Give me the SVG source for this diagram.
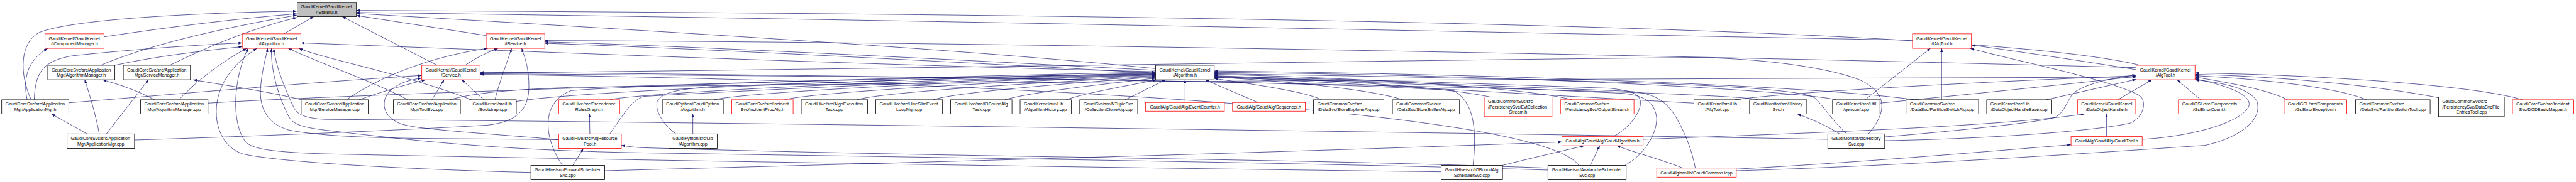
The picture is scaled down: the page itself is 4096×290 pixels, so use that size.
<svg xmlns="http://www.w3.org/2000/svg" width="4096" height="290" viewBox="0 0 4096 290">
<style>
text{font-family:"Liberation Sans",Arial,Helvetica,sans-serif;font-size:13.2px;text-anchor:middle;fill:#000}
text.l{text-anchor:start}
.node rect{fill:#fff;stroke:#000;stroke-width:1.5}
.red rect{stroke:#f00}
.gray rect{fill:#bfbfbf}
.edges path{fill:none;stroke:#191970;stroke-width:1.3;marker-end:url(#ah)}
</style>
<defs>
<marker id="ah" viewBox="0 0 11 8" refX="11" refY="4" markerWidth="11" markerHeight="8" markerUnits="userSpaceOnUse" orient="auto"><path d="M0,0L11,4L0,8z" fill="#191970"/></marker>
</defs>
<rect width="4096" height="290" fill="#fff"/>
<g transform="scale(0.5387)">
<g id="edges" class="edges">
<path d="M92,295 C55,215 60,125 116,96 C220,55 600,38 876,33"/>
<path d="M307,109 C500,80 700,55 876,41"/>
<path d="M297,193 C400,150 560,100 876,45"/>
<path d="M501,193 C620,135 740,85 876,52"/>
<path d="M838,100 L926,49"/>
<path d="M1290,193 L1010,49"/>
<path d="M1434,105 L1052,46"/>
<path d="M3411,203 C2900,150 2000,95 1052,40"/>
<path d="M5645,119 C4500,98 2500,55 1052,37"/>
<path d="M6317,193 C5900,90 4000,45 1052,31"/>
<path d="M80,295 C68,235 78,180 141,143"/>
<path d="M101,295 C104,215 125,180 214,165 C400,145 600,132 715,127"/>
<path d="M339,193 C450,168 600,150 715,138"/>
<path d="M528,295 C580,240 650,185 728,143"/>
<path d="M1567,510 C1100,498 800,475 716,455 C640,430 620,330 655,255 C680,200 725,165 758,143"/>
<path d="M4254,508 C3000,493 1400,465 960,455 C800,450 745,440 725,420 C680,360 690,230 732,143"/>
<path d="M1649,413 C1300,408 1000,415 850,384 C790,365 762,320 770,250 C775,200 785,170 790,143"/>
<path d="M5395,412 C4500,395 2000,360 960,353 C900,350 878,338 868,320 C840,260 815,200 808,143"/>
<path d="M4569,503 C4000,484 2800,466 1900,452 C1400,444 1100,400 960,385 C880,375 862,365 850,340 C815,270 800,200 801,143"/>
<path d="M1204,295 C1100,240 950,190 851,143"/>
<path d="M1391,295 C1200,220 960,175 882,143"/>
<path d="M3411,212 C2500,190 1500,150 888,127"/>
<path d="M1373,193 C1400,175 1430,158 1470,143"/>
<path d="M1023,295 C1100,240 1250,170 1440,143"/>
<path d="M1461,295 C1475,240 1495,190 1510,143"/>
<path d="M397,414 C700,405 1200,385 1440,370 C1530,360 1560,320 1561,260 C1562,200 1548,168 1540,143"/>
<path d="M3411,208 C2800,175 2000,135 1608,124"/>
<path d="M6305,200 C5000,165 3000,125 1608,120"/>
<path d="M5000,305 C4000,250 2500,160 1608,128"/>
<path d="M203,304 C500,280 900,245 1245,223"/>
<path d="M1060,295 C1130,270 1200,250 1256,236"/>
<path d="M1275,295 L1311,236"/>
<path d="M1428,295 L1363,236"/>
<path d="M1649,413 C1400,392 1220,382 1180,365 C1130,345 1122,300 1150,270 C1175,245 1210,236 1245,231"/>
<path d="M5515,396 C5580,320 5560,270 5491,237 C5400,200 5200,172 4995,170 C4000,180 2500,205 1417,216"/>
<path d="M4660,489 C4550,330 3000,240 1417,220"/>
<path d="M4348,489 C4360,380 4350,300 4290,268 C3800,235 2500,226 1417,218"/>
<path d="M5188,295 C5100,268 3000,225 1417,214"/>
<path d="M314,396 L438,236"/>
<path d="M889,295 C800,272 650,250 570,236"/>
<path d="M293,396 C285,350 265,280 250,236"/>
<path d="M456,295 C400,265 350,250 303,236"/>
<path d="M257,396 L152,337"/>
<path d="M614,305 C1000,280 2500,232 3411,213"/>
<path d="M1524,300 C1700,270 2500,238 3411,216"/>
<path d="M1660,489 C1600,400 1600,300 1686,268 C1900,250 2800,228 3411,218"/>
<path d="M1800,295 C1850,280 2500,240 3411,220"/>
<path d="M2108,295 C2200,272 2900,238 3411,222"/>
<path d="M2316,295 C2400,272 3000,240 3411,224"/>
<path d="M2530,295 C2600,272 3100,243 3411,226"/>
<path d="M2755,295 C2820,272 3200,243 3411,228"/>
<path d="M2966,295 C3050,270 3300,245 3411,231"/>
<path d="M3147,295 C3200,275 3350,250 3414,236"/>
<path d="M1995,396 C1960,370 1932,330 1940,300 C1955,272 2000,265 2100,256 C2600,238 3100,224 3411,219"/>
<path d="M1800,396 C1840,340 1860,300 1900,285 C2500,252 3000,232 3411,221"/>
<path d="M3321,295 L3441,236"/>
<path d="M3498,303 L3498,236"/>
<path d="M3713,303 L3557,236"/>
<path d="M3901,295 C3850,270 3700,250 3584,232"/>
<path d="M4140,295 C4050,265 3800,240 3584,228"/>
<path d="M4400,287 C4250,255 3900,235 3584,224"/>
<path d="M4640,295 C4500,258 4000,230 3584,220"/>
<path d="M5420,295 C5300,268 4500,222 3584,214"/>
<path d="M5650,295 C5400,258 4500,220 3584,210"/>
<path d="M4762,404 C4811,378 4845,330 4842,300 C4838,275 4811,268 4750,261 C4300,245 3900,232 3584,226"/>
<path d="M5004,497 C4995,447 4970,378 4934,327 C4905,290 4870,275 4810,270 C4300,250 3900,234 3584,228"/>
<path d="M4796,489 C4850,460 4890,400 4890,350 C4885,300 4850,282 4790,276 C4300,254 3900,236 3584,230"/>
<path d="M5451,396 C5410,360 5380,310 5356,289 C5300,260 5000,240 3584,218"/>
<path d="M5505,295 L5698,143"/>
<path d="M6305,206 C6050,165 5900,145 5819,133"/>
<path d="M5731,295 L5731,143"/>
<path d="M5563,416 C5900,410 6200,385 6288,364 C6330,345 6335,300 6318,285 C6250,240 5950,180 5815,143"/>
<path d="M5430,396 C5390,370 5340,350 5305,337"/>
<path d="M1327,295 C1400,275 1500,265 1700,258 C3500,235 5500,232 6305,228"/>
<path d="M5120,295 C5300,270 5900,240 6305,224"/>
<path d="M6040,295 L6305,235"/>
<path d="M5549,305 C5800,280 6100,250 6305,226"/>
<path d="M6251,295 L6352,236"/>
<path d="M6496,295 L6426,236"/>
<path d="M6323,412 C6450,405 6600,370 6635,320 C6660,280 6560,250 6479,233"/>
<path d="M6752,295 C6700,268 6600,248 6479,228"/>
<path d="M6985,295 C6900,260 6700,235 6479,224"/>
<path d="M7198,289 C7000,250 6700,225 6479,220"/>
<path d="M7445,295 C7300,250 6800,220 6479,216"/>
<path d="M5125,505 C5700,488 6350,440 6508,430 C6600,410 6680,360 6662,300 C6640,260 6560,245 6479,236"/>
<path d="M5563,405 C5800,385 6030,360 6067,347 C6095,330 6100,300 6120,275 C6160,245 6250,228 6305,222"/>
<path d="M6218,404 L6218,337"/>
<path d="M4850,412 C5300,395 5900,375 6153,337"/>
<path d="M5125,500 C5500,480 5900,445 6113,428"/>
<path d="M4435,489 C4550,460 4620,445 4676,431"/>
<path d="M4694,489 L4722,431"/>
<path d="M4967,497 C4900,470 4820,450 4772,431"/>
<path d="M1785,505 C2800,478 3800,450 4610,420"/>
<path d="M1691,489 L1722,439"/>
<path d="M4569,497 C3800,468 2800,465 1900,437 C1870,436 1850,432 1834,430"/>
<path d="M1741,396 L1740,337"/>
<path d="M2045,396 L2045,337"/>
</g>
<g id="n0" class="node gray"><rect x="877" y="7" width="175" height="42"/><text class="l" x="888" y="24.6">GaudiKernel/GaudiKernel</text><text x="964.5" y="40.8">/IStateful.h</text></g>
<g id="n1" class="node red"><rect x="133" y="100" width="174" height="43"/><text class="l" x="144" y="118.1">GaudiKernel/GaudiKernel</text><text x="220" y="134.3">/IComponentManager.h</text></g>
<g id="n2" class="node red"><rect x="715" y="100" width="173" height="43"/><text class="l" x="726" y="118.1">GaudiKernel/GaudiKernel</text><text x="801.5" y="134.3">/IAlgorithm.h</text></g>
<g id="n3" class="node red"><rect x="1435" y="100" width="173" height="43"/><text class="l" x="1446" y="118.1">GaudiKernel/GaudiKernel</text><text x="1521.5" y="134.3">/IService.h</text></g>
<g id="n4" class="node red"><rect x="5645" y="100" width="174" height="43"/><text class="l" x="5656" y="118.1">GaudiKernel/GaudiKernel</text><text x="5732" y="134.3">/IAlgTool.h</text></g>
<g id="n5" class="node"><rect x="141" y="193" width="198" height="43"/><text class="l" x="152" y="211.1">GaudiCoreSvc/src/Application</text><text x="240" y="227.3">Mgr/AlgorithmManager.h</text></g>
<g id="n6" class="node"><rect x="364" y="193" width="198" height="43"/><text class="l" x="375" y="211.1">GaudiCoreSvc/src/Application</text><text x="463" y="227.3">Mgr/ServiceManager.h</text></g>
<g id="n7" class="node red"><rect x="1245" y="193" width="172" height="43"/><text class="l" x="1256" y="211.1">GaudiKernel/GaudiKernel</text><text x="1331" y="227.3">/Service.h</text></g>
<g id="n8" class="node"><rect x="3411" y="193" width="173" height="43"/><text class="l" x="3422" y="211.1">GaudiKernel/GaudiKernel</text><text x="3497.5" y="227.3">/Algorithm.h</text></g>
<g id="n9" class="node red"><rect x="6305" y="193" width="174" height="43"/><text class="l" x="6316" y="211.1">GaudiKernel/GaudiKernel</text><text x="6392" y="227.3">/AlgTool.h</text></g>
<g id="n10" class="node"><rect x="5" y="295" width="198" height="42"/><text class="l" x="16" y="312.6">GaudiCoreSvc/src/Application</text><text x="104" y="328.8">Mgr/ApplicationMgr.h</text></g>
<g id="n11" class="node"><rect x="415" y="295" width="199" height="42"/><text class="l" x="426" y="312.6">GaudiCoreSvc/src/Application</text><text x="514.5" y="328.8">Mgr/AlgorithmManager.cpp</text></g>
<g id="n12" class="node"><rect x="889" y="295" width="198" height="42"/><text class="l" x="900" y="312.6">GaudiCoreSvc/src/Application</text><text x="988" y="328.8">Mgr/ServiceManager.cpp</text></g>
<g id="n13" class="node"><rect x="1161" y="295" width="198" height="42"/><text class="l" x="1172" y="312.6">GaudiCoreSvc/src/Application</text><text x="1260" y="328.8">Mgr/ToolSvc.cpp</text></g>
<g id="n14" class="node"><rect x="1384" y="295" width="140" height="42"/><text class="l" x="1395" y="312.6">GaudiKernel/src/Lib</text><text x="1454" y="328.8">/Bootstrap.cpp</text></g>
<g id="n15" class="node red"><rect x="1649" y="295" width="180" height="42"/><text class="l" x="1660" y="312.6">GaudiHive/src/Precedence</text><text x="1739" y="328.8">RulesGraph.h</text></g>
<g id="n16" class="node"><rect x="1955" y="295" width="180" height="42"/><text class="l" x="1966" y="312.6">GaudiPython/GaudiPython</text><text x="2045" y="328.8">/Algorithm.h</text></g>
<g id="n17" class="node red"><rect x="2160" y="295" width="181" height="42"/><text class="l" x="2171" y="312.6">GaudiCoreSvc/src/Incident</text><text x="2250.5" y="328.8">Svc/IncidentProcAlg.h</text></g>
<g id="n18" class="node"><rect x="2365" y="295" width="196" height="42"/><text class="l" x="2376" y="312.6">GaudiHive/src/AlgoExecution</text><text x="2463" y="328.8">Task.cpp</text></g>
<g id="n19" class="node"><rect x="2585" y="295" width="197" height="42"/><text class="l" x="2596" y="312.6">GaudiHive/src/HiveSlimEvent</text><text x="2683.5" y="328.8">LoopMgr.cpp</text></g>
<g id="n20" class="node"><rect x="2806" y="295" width="181" height="42"/><text class="l" x="2817" y="312.6">GaudiHive/src/IOBoundAlg</text><text x="2896.5" y="328.8">Task.cpp</text></g>
<g id="n21" class="node"><rect x="3011" y="295" width="151" height="42"/><text class="l" x="3022" y="312.6">GaudiKernel/src/Lib</text><text x="3086.5" y="328.8">/AlgorithmHistory.cpp</text></g>
<g id="n22" class="node"><rect x="3187" y="295" width="171" height="42"/><text class="l" x="3198" y="312.6">GaudiSvc/src/NTupleSvc</text><text x="3272.5" y="328.8">/CollectionCloneAlg.cpp</text></g>
<g id="n23" class="node red"><rect x="3381" y="303" width="233" height="26"/><text x="3497.5" y="320.7">GaudiAlg/GaudiAlg/EventCounter.h</text></g>
<g id="n24" class="node red"><rect x="3638" y="303" width="215" height="26"/><text x="3745.5" y="320.7">GaudiAlg/GaudiAlg/Sequencer.h</text></g>
<g id="n25" class="node"><rect x="3877" y="295" width="208" height="42"/><text class="l" x="3888" y="312.6">GaudiCommonSvc/src</text><text x="3981" y="328.8">/DataSvc/StoreExplorerAlg.cpp</text></g>
<g id="n26" class="node"><rect x="4110" y="295" width="198" height="42"/><text class="l" x="4121" y="312.6">GaudiCommonSvc/src</text><text x="4209" y="328.8">/DataSvc/StoreSnifferAlg.cpp</text></g>
<g id="n27" class="node red"><rect x="4381" y="287" width="200" height="58"/><text class="l" x="4392" y="304.7">GaudiCommonSvc/src</text><text class="l" x="4392" y="320.7">/PersistencySvc/EvtCollection</text><text x="4481" y="336.7">Stream.h</text></g>
<g id="n28" class="node red"><rect x="4606" y="295" width="217" height="42"/><text class="l" x="4617" y="312.6">GaudiCommonSvc/src</text><text x="4714.5" y="328.8">/PersistencySvc/OutputStream.h</text></g>
<g id="n29" class="node"><rect x="5000" y="295" width="139" height="42"/><text class="l" x="5011" y="312.6">GaudiKernel/src/Lib</text><text x="5069.5" y="328.8">/AlgTool.cpp</text></g>
<g id="n30" class="node"><rect x="5164" y="295" width="169" height="42"/><text class="l" x="5175" y="312.6">GaudiMonitor/src/History</text><text x="5248.5" y="328.8">Svc.h</text></g>
<g id="n31" class="node"><rect x="5409" y="295" width="140" height="42"/><text class="l" x="5420" y="312.6">GaudiKernel/src/Util</text><text x="5479" y="328.8">/genconf.cpp</text></g>
<g id="n32" class="node"><rect x="5626" y="295" width="214" height="42"/><text class="l" x="5637" y="312.6">GaudiCommonSvc/src</text><text x="5733" y="328.8">/DataSvc/PartitionSwitchAlg.cpp</text></g>
<g id="n33" class="node"><rect x="5864" y="295" width="192" height="42"/><text class="l" x="5875" y="312.6">GaudiKernel/src/Lib</text><text x="5960" y="328.8">/DataObjectHandleBase.cpp</text></g>
<g id="n34" class="node red"><rect x="6132" y="295" width="172" height="42"/><text class="l" x="6143" y="312.6">GaudiKernel/GaudiKernel</text><text x="6218" y="328.8">/DataObjectHandle.h</text></g>
<g id="n35" class="node red"><rect x="6430" y="295" width="185" height="42"/><text class="l" x="6441" y="312.6">GaudiGSL/src/Components</text><text x="6522.5" y="328.8">/GslErrorCount.h</text></g>
<g id="n36" class="node red"><rect x="6742" y="295" width="185" height="42"/><text class="l" x="6753" y="312.6">GaudiGSL/src/Components</text><text x="6834.5" y="328.8">/GslErrorException.h</text></g>
<g id="n37" class="node"><rect x="6953" y="295" width="220" height="42"/><text class="l" x="6964" y="312.6">GaudiCommonSvc/src</text><text x="7063" y="328.8">/DataSvc/PartitionSwitchTool.cpp</text></g>
<g id="n38" class="node"><rect x="7198" y="287" width="194" height="58"/><text class="l" x="7209" y="304.7">GaudiCommonSvc/src</text><text class="l" x="7209" y="320.7">/PersistencySvc/DataSvcFile</text><text x="7295" y="336.7">EntriesTool.cpp</text></g>
<g id="n39" class="node red"><rect x="7416" y="295" width="181" height="42"/><text class="l" x="7427" y="312.6">GaudiCoreSvc/src/Incident</text><text x="7506.5" y="328.8">Svc/DODBasicMapper.h</text></g>
<g id="n40" class="node"><rect x="198" y="396" width="199" height="43"/><text class="l" x="209" y="414.1">GaudiCoreSvc/src/Application</text><text x="297.5" y="430.3">Mgr/ApplicationMgr.cpp</text></g>
<g id="n41" class="node"><rect x="1974" y="396" width="143" height="43"/><text class="l" x="1985" y="414.1">GaudiPython/src/Lib</text><text x="2045.5" y="430.3">/Algorithm.cpp</text></g>
<g id="n42" class="node red"><rect x="1649" y="396" width="185" height="43"/><text class="l" x="1660" y="414.1">GaudiHive/src/AlgResource</text><text x="1741.5" y="430.3">Pool.h</text></g>
<g id="n43" class="node red"><rect x="4610" y="404" width="240" height="27"/><text x="4730" y="422.2">GaudiAlg/GaudiAlg/GaudiAlgorithm.h</text></g>
<g id="n44" class="node"><rect x="5395" y="396" width="168" height="43"/><text class="l" x="5406" y="414.1">GaudiMonitor/src/History</text><text x="5479" y="430.3">Svc.cpp</text></g>
<g id="n45" class="node red"><rect x="6113" y="404" width="210" height="27"/><text x="6218" y="422.2">GaudiAlg/GaudiAlg/GaudiTool.h</text></g>
<g id="n46" class="node"><rect x="1567" y="489" width="218" height="43"/><text class="l" x="1578" y="507.1">GaudiHive/src/ForwardScheduler</text><text x="1676" y="523.3">Svc.cpp</text></g>
<g id="n47" class="node"><rect x="4254" y="489" width="181" height="43"/><text class="l" x="4265" y="507.1">GaudiHive/src/IOBoundAlg</text><text x="4344.5" y="523.3">SchedulerSvc.cpp</text></g>
<g id="n48" class="node"><rect x="4569" y="489" width="231" height="43"/><text class="l" x="4580" y="507.1">GaudiHive/src/AvalancheScheduler</text><text x="4684.5" y="523.3">Svc.cpp</text></g>
<g id="n49" class="node red"><rect x="4890" y="497" width="235" height="27"/><text x="5007.5" y="515.2">GaudiAlg/src/lib/GaudiCommon.icpp</text></g>
</g>
</svg>
